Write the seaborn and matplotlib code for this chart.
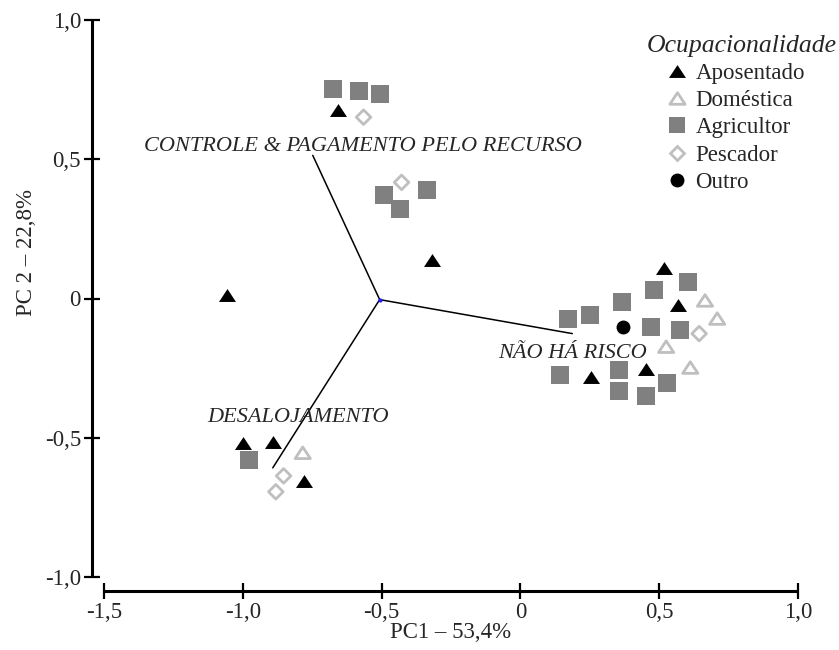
import numpy as np
import pandas as pd
import matplotlib
matplotlib.use("Agg")
import matplotlib.pyplot as plt
from matplotlib.path import Path
from matplotlib.lines import Line2D
import seaborn as sns

# ---------------- data ----------------
apos_x = [-1.058, -0.658, -0.320, -1.000, -0.892, -0.781, 0.518, 0.568, 0.453, 0.255]
apos_y = [0.011, 0.676, 0.137, -0.518, -0.515, -0.655, 0.108, -0.022, -0.252, -0.281]

dom_x = [-0.784, 0.665, 0.709, 0.525, 0.612]
dom_y = [-0.554, -0.007, -0.072, -0.173, -0.248]

agr_x = [-0.676, -0.583, -0.507, -0.493, -0.432, -0.335, -0.978,
         0.173, 0.252, 0.367, 0.482, 0.604, 0.471, 0.576, 0.144, 0.356, 0.356, 0.453, 0.529]
agr_y = [0.752, 0.745, 0.734, 0.371, 0.320, 0.388, -0.579,
         -0.072, -0.061, -0.014, 0.032, 0.058, -0.104, -0.112, -0.273, -0.255, -0.331, -0.349, -0.302]

pesc_x = [-0.565, -0.428, 0.644, -0.853, -0.881]
pesc_y = [0.651, 0.417, -0.126, -0.637, -0.694]

outro_x = [0.371]
outro_y = [-0.104]

groups = ["Aposentado", "Doméstica", "Agricultor", "Pescador", "Outro"]
legend_title = "Ocupacionalidade"

load_origin = (-0.507, -0.004)
load_names = ["CONTROLE & PAGAMENTO PELO RECURSO", "NÃO HÁ RISCO", "DESALOJAMENTO"]
load_x = [-0.748, 0.187, -0.892]
load_y = [0.514, -0.126, -0.608]

xticks = [-1.5, -1.0, -0.5, 0.0, 0.5, 1.0]
xtick_labels = ["-1,5", "-1,0", "-0,5", "0", "0,5", "1,0"]
yticks = [-1.0, -0.5, 0.0, 0.5, 1.0]
ytick_labels = ["-1,0", "-0,5", "0", "0,5", "1,0"]

# ---------------- style ----------------
sns.set_style("white")
plt.rcParams["font.family"] = ["Liberation Serif", "DejaVu Serif"]
FS = 16.5

W, H = 839, 650
fig = plt.figure(figsize=(W / 100, H / 100), dpi=100)
ax = fig.add_axes([104 / W, (650 - 577) / H, 694 / W, 557 / H])

df = pd.concat([
    pd.DataFrame({"x": apos_x, "y": apos_y, "g": groups[0]}),
    pd.DataFrame({"x": dom_x, "y": dom_y, "g": groups[1]}),
    pd.DataFrame({"x": agr_x, "y": agr_y, "g": groups[2]}),
    pd.DataFrame({"x": pesc_x, "y": pesc_y, "g": groups[3]}),
    pd.DataFrame({"x": outro_x, "y": outro_y, "g": groups[4]}),
], ignore_index=True)

tri = Path([(-1, -0.76), (1, -0.76), (0, 0.76), (-1, -0.76)], closed=True)
light = "#bfbfbf"
styles = {
    "Aposentado": dict(marker=tri, s=150, color="black", linewidth=0),
    "Doméstica": dict(marker=tri, s=120, facecolor="none", edgecolor=light, linewidth=2.0),
    "Agricultor": dict(marker="s", s=150, color="#808080", linewidth=0),
    "Pescador": dict(marker="D", s=55, facecolor="none", edgecolor=light, linewidth=2.0),
    "Outro": dict(marker="o", s=100, color="black", linewidth=0),
}

# loading vectors
for nx, ny in zip(load_x, load_y):
    ax.plot([load_origin[0], nx], [load_origin[1], ny], color="black", lw=1.1, zorder=2)
ax.plot([load_origin[0]], [load_origin[1]], marker="o", ms=2, color="#2020ff", zorder=3)

for g in groups:
    sub = df[df["g"] == g]
    sns.scatterplot(data=sub, x="x", y="y", ax=ax, legend=False, zorder=4, **styles[g])

# loading labels
LFS = 16
ax.text(-0.568, 0.529, load_names[0], ha="center", va="baseline", fontsize=LFS, style="italic")
ax.text(0.187, -0.212, load_names[1], ha="center", va="baseline", fontsize=LFS, style="italic")
ax.text(-0.802, -0.442, load_names[2], ha="center", va="baseline", fontsize=LFS, style="italic")

# axes
ax.set_xlim(-1.5, 1.0)
ax.set_ylim(-1.0, 1.0)
ax.set_xticks(xticks)
ax.set_xticklabels(xtick_labels)
ax.set_yticks(yticks)
ax.set_yticklabels(ytick_labels)
ax.set_xlabel("")
ax.set_ylabel("")
for s in ["top", "right"]:
    ax.spines[s].set_visible(False)
ax.spines["left"].set_position(("outward", 8.6))
ax.spines["bottom"].set_position(("outward", 10.0))
ax.spines["left"].set_bounds(-1.0, 1.0)
ax.spines["bottom"].set_bounds(-1.5, 1.0)
for s in ["left", "bottom"]:
    ax.spines[s].set_linewidth(2.2)
    ax.spines[s].set_color("black")
    ax.spines[s].set_capstyle("butt")
ax.tick_params(axis="both", which="major", direction="inout", length=12, width=1.6,
               labelsize=FS, color="black", pad=2, bottom=True, left=True,
               top=False, right=False)

fig.text(451 / W, 1 - 632 / H, "PC1 – 53,4%", ha="center", va="center", fontsize=FS)
fig.text(26 / W, 1 - 253 / H, "PC 2 – 22,8%", ha="center", va="center", fontsize=FS, rotation=90)

# legend
fig.text(741.5 / W, 1 - 46 / H, legend_title, ha="center", va="center", fontsize=18.5,
         style="italic")
handles = [
    Line2D([], [], linestyle="none", marker=tri, markersize=12.2, color="black", markeredgewidth=0),
    Line2D([], [], linestyle="none", marker=tri, markersize=11, markerfacecolor="none",
           markeredgecolor=light, markeredgewidth=2.0),
    Line2D([], [], linestyle="none", marker="s", markersize=12.2, color="#808080", markeredgewidth=0),
    Line2D([], [], linestyle="none", marker="D", markersize=7.4, markerfacecolor="none",
           markeredgecolor=light, markeredgewidth=2.0),
    Line2D([], [], linestyle="none", marker="o", markersize=10, color="black", markeredgewidth=0),
]
leg = fig.legend(handles, groups, loc="upper left", bbox_to_anchor=(668 / W, 1 - 63 / H),
                 frameon=False, fontsize=FS,
                 handlelength=0.8, handletextpad=0.4, labelspacing=0.27, borderpad=0,
                 borderaxespad=0)

fig.savefig("out.png", dpi=100)
